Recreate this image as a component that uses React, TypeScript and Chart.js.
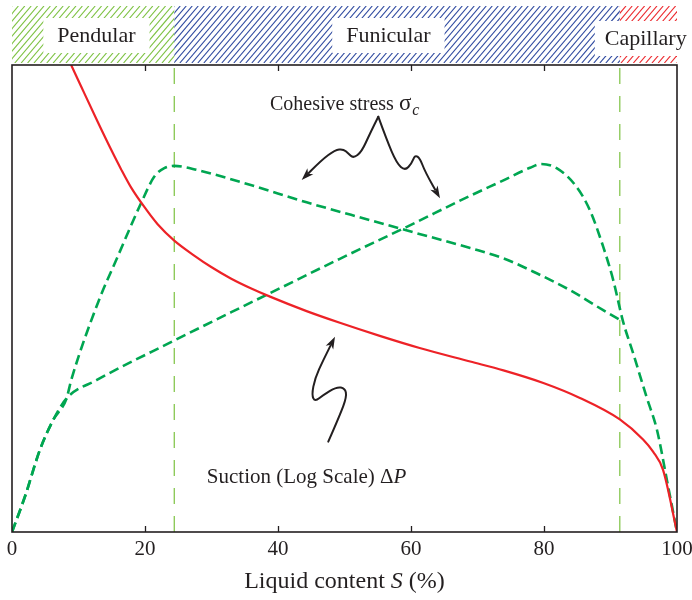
import React, { useEffect, useRef } from 'react';
import { Chart, registerables } from 'chart.js';

Chart.register(...registerables);

// ---------- data ----------
const xTickValues = [0, 20, 40, 60, 80, 100];

const suctionS = [8.9, 10.4, 12.9, 14.9, 16.4, 17.9, 19.9, 21.9, 24.4, 27.4, 29.9, 32.9, 35.9, 38.8, 44.3, 49.3, 55.3, 61.3, 68.9, 73.9, 79.9, 85.4, 91.4, 94.9, 96.4, 97.9, 100];
const suctionV = [100, 95.4, 87.8, 81.9, 77.7, 73.8, 69.6, 65.9, 62.4, 59.2, 56.8, 54.3, 52.2, 50.4, 47.3, 44.8, 42.0, 39.4, 36.5, 34.6, 31.9, 28.7, 24.1, 19.8, 17.2, 13.3, 0];

// branch A: rises to the pendular peak, then declines until it meets branch B
const cohesiveAS = [0, 1.95, 4.2, 6.2, 8.2, 8.9, 12.9, 15.9, 19.4, 21.4, 22.9, 24.4, 27.9, 35.9, 44.3, 54.3, 59.3, 68.9, 73.9, 78.9, 83.9, 88.9, 91.9];
const cohesiveAV = [0, 7.6, 17.6, 24, 28.6, 32.5, 49, 59, 70.4, 76.1, 77.9, 78.4, 77.5, 74.3, 70.6, 66.6, 64.6, 60.8, 58.6, 55.4, 51.8, 47.5, 45];

// branch B: slow rise to the funicular peak, then drops to zero
const cohesiveBS = [0, 1.95, 4.2, 6.2, 8.2, 12.7, 24.4, 34.3, 38.3, 49.3, 59.3, 68.9, 73.9, 77.9, 79.6, 81.9, 84.9, 86.9, 88.9, 90.4, 91.9, 93.4, 95.4, 97, 98.5, 100];
const cohesiveBV = [0, 7.6, 17.6, 24, 28.6, 32.5, 41.0, 48.0, 50.8, 58.5, 65.3, 72.0, 75.3, 78.0, 78.8, 77.9, 73.9, 68.9, 61.1, 54, 45, 38.3, 29, 21.8, 11, 0];

const regimeBounds = [0, 24.4, 91.4, 100];
const regimeNames = ['Pendular', 'Funicular', 'Capillary'];
const regimeLabelCenters = [12.7, 56.6, 95.3];
const regimeColors = ['#7dc242', '#2f4aa0', '#ec2a2f'];

// annotation arrows (data coordinates)
const arrowLeftS = [55.08, 53.83, 52.59, 51.32, 50.57, 49.82, 48.57, 46.57, 43.56];
const arrowLeftV = [88.93, 85.37, 81.43, 80.02, 81.09, 82.01, 81.8, 79.66, 75.37];
const arrowRightS = [55.08, 56.35, 57.85, 59.1, 60.11, 60.6, 61.35, 62.11, 64.36];
const arrowRightV = [88.93, 83.94, 78.95, 77.37, 78.95, 80.73, 80.02, 77.15, 71.46];
const arrowSuctionS = [47.56, 49.32, 50.33, 50.08, 48.83, 46.81, 45.56, 45.07, 45.56, 46.81, 48.57];
const arrowSuctionV = [19.34, 25.05, 28.97, 30.77, 31.11, 29.34, 27.91, 29.34, 32.91, 36.83, 41.82];

const cohesiveLabelPos = [38.8, 91.9];
const suctionLabelPos = [29.3, 12.0];

const INK = '#231f20';
const SERIF = '"Liberation Serif", "Times New Roman", serif';

const pts = (xs: number[], ys: number[]) => xs.map((x, i) => ({ x, y: ys[i] }));

function drawSmoothArrow(ctx: CanvasRenderingContext2D, p: { x: number; y: number }[]) {
  ctx.beginPath();
  ctx.moveTo(p[0].x, p[0].y);
  for (let i = 1; i < p.length - 1; i++) {
    const mx = (p[i].x + p[i + 1].x) / 2;
    const my = (p[i].y + p[i + 1].y) / 2;
    ctx.quadraticCurveTo(p[i].x, p[i].y, mx, my);
  }
  const last = p[p.length - 1];
  const prev = p[p.length - 2];
  const ang = Math.atan2(last.y - prev.y, last.x - prev.x);
  const headLen = 13;
  const bx = last.x - Math.cos(ang) * (headLen - 3);
  const by = last.y - Math.sin(ang) * (headLen - 3);
  ctx.lineTo(bx, by);
  ctx.stroke();
  ctx.beginPath();
  ctx.moveTo(last.x, last.y);
  ctx.lineTo(last.x - Math.cos(ang - 0.33) * headLen, last.y - Math.sin(ang - 0.33) * headLen);
  ctx.lineTo(last.x - Math.cos(ang) * (headLen - 4), last.y - Math.sin(ang) * (headLen - 4));
  ctx.lineTo(last.x - Math.cos(ang + 0.33) * headLen, last.y - Math.sin(ang + 0.33) * headLen);
  ctx.closePath();
  ctx.fill();
}

const overlayPlugin = {
  id: 'overlay',
  afterDatasetsDraw(chart: any) {
    const { ctx, chartArea: a, scales } = chart;
    const xs = scales.x;
    const ys = scales.y;
    const X = (v: number) => xs.getPixelForValue(v);
    const Y = (v: number) => ys.getPixelForValue(v);
    ctx.save();

    // frame
    ctx.strokeStyle = INK;
    ctx.lineWidth = 1.6;
    ctx.setLineDash([]);
    ctx.strokeRect(a.left, a.top, a.right - a.left, a.bottom - a.top);

    // inward ticks top and bottom + tick labels
    ctx.lineWidth = 1.3;
    ctx.font = `21px ${SERIF}`;
    ctx.fillStyle = INK;
    ctx.textAlign = 'center';
    ctx.textBaseline = 'middle';
    xs.ticks.forEach((t: any) => {
      const px = X(t.value);
      ctx.fillText(String(t.value), px, a.bottom + 17);
      if (t.value <= 0 || t.value >= 100) return;
      const rx = Math.round(px) + 0.5;
      ctx.beginPath();
      ctx.moveTo(rx, a.bottom);
      ctx.lineTo(rx, a.bottom - 6);
      ctx.moveTo(rx, a.top);
      ctx.lineTo(rx, a.top + 6);
      ctx.stroke();
    });

    // regime band
    const bTop = 6;
    const bBot = a.top - 2;
    const h = bBot - bTop;
    const spacing = [6.4, 6.0, 6.2];
    for (let i = 0; i < regimeNames.length; i++) {
      const x0 = X(regimeBounds[i]);
      const x1 = X(regimeBounds[i + 1]);
      ctx.save();
      ctx.beginPath();
      ctx.rect(x0, bTop, x1 - x0, h);
      ctx.clip();
      ctx.strokeStyle = regimeColors[i];
      ctx.lineWidth = 1.15;
      const dx = h * 0.85;
      for (let k = x0 - dx; k < x1 + 2; k += spacing[i]) {
        ctx.beginPath();
        ctx.moveTo(k, bBot);
        ctx.lineTo(k + dx, bTop);
        ctx.stroke();
      }
      ctx.restore();
    }
    ctx.font = `22px ${SERIF}`;
    ctx.textBaseline = 'middle';
    ctx.textAlign = 'center';
    regimeNames.forEach((name, i) => {
      const cx = X(regimeLabelCenters[i]);
      const w = ctx.measureText(name).width + (i === 2 ? 20 : 28);
      const cy = i === 2 ? 38 : 35;
      ctx.fillStyle = '#ffffff';
      ctx.fillRect(cx - w / 2, cy - 17, w, 35);
      ctx.fillStyle = INK;
      ctx.fillText(name, cx, cy + 1);
    });

    // annotation arrows
    ctx.strokeStyle = INK;
    ctx.fillStyle = INK;
    ctx.lineWidth = 2;
    ctx.lineJoin = 'round';
    ctx.lineCap = 'round';
    [
      [arrowLeftS, arrowLeftV],
      [arrowRightS, arrowRightV],
      [arrowSuctionS, arrowSuctionV],
    ].forEach(([sx, sv]) => {
      drawSmoothArrow(ctx, sx.map((s, i) => ({ x: X(s), y: Y(sv[i]) })));
    });

    // annotation texts
    ctx.textAlign = 'left';
    ctx.textBaseline = 'alphabetic';
    ctx.fillStyle = INK;
    let tx = X(cohesiveLabelPos[0]);
    let ty = Y(cohesiveLabelPos[1]) + 7;
    ctx.font = `20px ${SERIF}`;
    const t1 = 'Cohesive stress ';
    ctx.fillText(t1, tx, ty);
    tx += ctx.measureText(t1).width;
    ctx.font = `23px ${SERIF}`;
    ctx.fillText('\u03c3', tx, ty);
    tx += ctx.measureText('\u03c3').width + 1;
    ctx.font = `italic 16px ${SERIF}`;
    ctx.fillText('c', tx, ty + 5);

    tx = X(suctionLabelPos[0]);
    ty = Y(suctionLabelPos[1]) + 7;
    ctx.font = `21px ${SERIF}`;
    const t2 = 'Suction (Log Scale) \u0394';
    ctx.fillText(t2, tx, ty);
    tx += ctx.measureText(t2).width;
    ctx.font = `italic 21px ${SERIF}`;
    ctx.fillText('P', tx, ty);

    // x axis title
    const p1 = 'Liquid content ';
    const p3 = ' (%)';
    ctx.font = `24px ${SERIF}`;
    const w1 = ctx.measureText(p1).width;
    const w3 = ctx.measureText(p3).width;
    ctx.font = `italic 24px ${SERIF}`;
    const w2 = ctx.measureText('S').width;
    const total = w1 + w2 + w3;
    let sx = (a.left + a.right) / 2 - total / 2;
    const sy = 588;
    ctx.font = `24px ${SERIF}`;
    ctx.fillText(p1, sx, sy);
    sx += w1;
    ctx.font = `italic 24px ${SERIF}`;
    ctx.fillText('S', sx, sy);
    sx += w2;
    ctx.font = `24px ${SERIF}`;
    ctx.fillText(p3, sx, sy);

    ctx.restore();
  },
};

export default function App() {
  const ref = useRef<HTMLCanvasElement | null>(null);

  useEffect(() => {
    document.body.style.margin = '0';
    const canvas = ref.current;
    if (!canvas) return;
    const green = '#00a651';
    const limitStyle = {
      borderColor: '#7dc242',
      borderWidth: 1.2,
      borderDash: [16, 12],
      pointRadius: 0,
      fill: false,
    };
    const chart = new Chart(canvas, {
      type: 'line',
      data: {
        datasets: [
          {
            label: 'Suction',
            data: pts(suctionS, suctionV),
            borderColor: '#ed2227',
            borderWidth: 2.2,
            pointRadius: 0,
            cubicInterpolationMode: 'monotone',
            fill: false,
            order: 1,
          },
          {
            label: 'Cohesive A',
            data: pts(cohesiveAS, cohesiveAV),
            borderColor: green,
            borderWidth: 2.6,
            borderDash: [10, 5],
            pointRadius: 0,
            cubicInterpolationMode: 'monotone',
            fill: false,
            order: 2,
          },
          {
            label: 'Cohesive B',
            data: pts(cohesiveBS, cohesiveBV),
            borderColor: green,
            borderWidth: 2.6,
            borderDash: [10, 5],
            pointRadius: 0,
            cubicInterpolationMode: 'monotone',
            fill: false,
            order: 3,
          },
          {
            label: 'Pendular limit',
            data: [{ x: regimeBounds[1], y: 0 }, { x: regimeBounds[1], y: 100 }],
            ...limitStyle,
            order: 4,
          },
          {
            label: 'Capillary limit',
            data: [{ x: regimeBounds[2], y: 0 }, { x: regimeBounds[2], y: 100 }],
            ...limitStyle,
            order: 5,
          },
        ],
      },
      options: {
        animation: false,
        responsive: false,
        layout: { padding: { left: 12, right: 15, top: 65, bottom: 68 } },
        plugins: { legend: { display: false }, tooltip: { enabled: false } },
        scales: {
          x: {
            type: 'linear',
            min: 0,
            max: 100,
            afterBuildTicks: (scale: any) => {
              scale.ticks = xTickValues.map((v) => ({ value: v }));
            },
            ticks: { display: false },
            grid: { display: false, drawTicks: false },
            border: { display: false },
          },
          y: {
            type: 'linear',
            min: 0,
            max: 100,
            display: false,
          },
        },
      },
      plugins: [overlayPlugin],
    } as any);
    return () => chart.destroy();
  }, []);

  return (
    <div style={{ width: 692, height: 600 }}>
      <canvas ref={ref} width={692} height={600} />
    </div>
  );
}
